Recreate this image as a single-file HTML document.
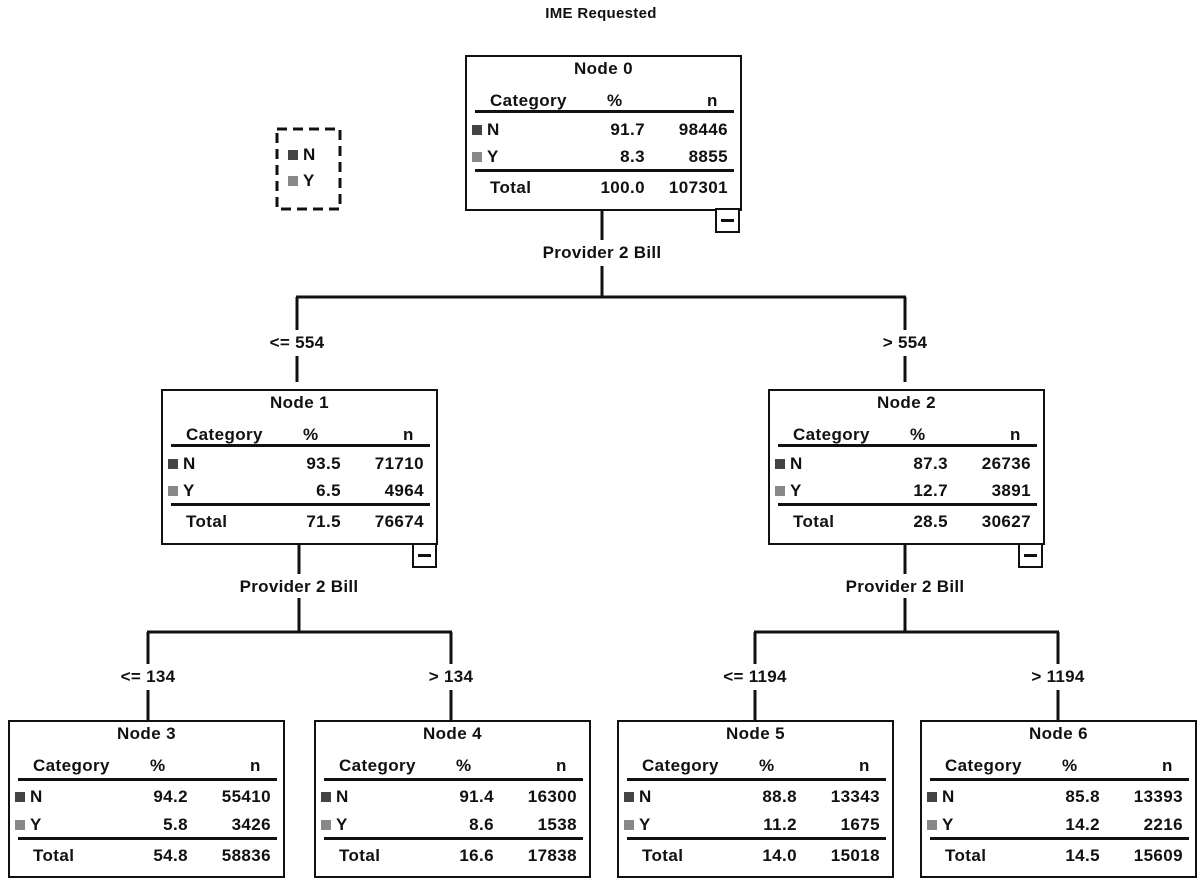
<!DOCTYPE html>
<html><head><meta charset="utf-8"><style>
body{margin:0;width:1203px;height:882px;background:#fff;position:relative;overflow:hidden;font-family:"Liberation Sans",Arial,sans-serif;font-weight:bold;color:#111;}
.t{position:absolute;font-size:17px;white-space:nowrap;line-height:18px;letter-spacing:0.3px;}
.c{transform:translateX(-50%);}
.node{position:absolute;width:273px;height:152px;border:2px solid #111;background:#fff;}
.node span{position:absolute;font-size:17px;line-height:18px;white-space:nowrap;letter-spacing:0.4px;}
.node span.sq{position:static;}
.ttl{left:0;right:0;text-align:center;top:3px;}
.hc{left:23px;top:35px;}
.hp{left:140px;top:35px;}
.hn{left:240px;top:35px;}
.r1{top:64px}.r2{top:91px}.r3{top:122px}
.sq{width:10px;height:10px;display:inline-block;margin-right:5px;}
.l{left:5px}.lt{left:23px}
.p{right:95px;text-align:right}
.n{right:12px;text-align:right}
.hr{position:absolute;left:8px;right:6px;height:3px;background:#111;}
.minus{position:absolute;width:21px;height:21px;border:2px solid #111;background:#fff;}
.minus:after{content:"";position:absolute;left:4px;right:4px;top:9px;height:3px;background:#111;}
</style></head><body>
<svg width="1203" height="882" style="position:absolute;left:0;top:0" stroke="#111" stroke-width="3" fill="none">
<path d="M602 208V240M602 266V297M296 297H906M297 297V330M297 356V382M905 297V330M905 356V382"/>
<path d="M299 543V574M299 598V632M147 632H452M148 632V664M148 690V720M451 632V664M451 690V720"/>
<path d="M905 543V574M905 598V632M754 632H1059M755 632V664M755 690V720M1058 632V664M1058 690V720"/>
<rect x="277" y="129" width="63" height="80" stroke-dasharray="10,6"/>
</svg>
<div class="t c" style="left:601px;top:5px;font-size:15px">IME Requested</div>
<div class="t" style="left:288px;top:146px"><span class="sq" style="background:#444"></span>N</div>
<div class="t" style="left:288px;top:172px"><span class="sq" style="background:#888"></span>Y</div>

<div class="t c" style="left:602px;top:244px">Provider 2 Bill</div>
<div class="t c" style="left:297px;top:334px">&lt;= 554</div>
<div class="t c" style="left:905px;top:334px">&gt; 554</div>
<div class="t c" style="left:299px;top:578px">Provider 2 Bill</div>
<div class="t c" style="left:905px;top:578px">Provider 2 Bill</div>
<div class="t c" style="left:148px;top:668px">&lt;= 134</div>
<div class="t c" style="left:451px;top:668px">&gt; 134</div>
<div class="t c" style="left:755px;top:668px">&lt;= 1194</div>
<div class="t c" style="left:1058px;top:668px">&gt; 1194</div>

<div class="node" style="left:465px;top:55px"><span class="ttl">Node 0</span><span class="hc">Category</span><span class="hp">%</span><span class="hn">n</span><div class="hr" style="top:53px"></div><span class="l r1"><span class="sq" style="background:#444"></span>N</span><span class="p r1">91.7</span><span class="n r1">98446</span><span class="l r2"><span class="sq" style="background:#888"></span>Y</span><span class="p r2">8.3</span><span class="n r2">8855</span><div class="hr" style="top:112px"></div><span class="lt r3">Total</span><span class="p r3">100.0</span><span class="n r3">107301</span></div>
<div class="minus" style="left:715px;top:208px"></div>

<div class="node" style="left:161px;top:389px"><span class="ttl">Node 1</span><span class="hc">Category</span><span class="hp">%</span><span class="hn">n</span><div class="hr" style="top:53px"></div><span class="l r1"><span class="sq" style="background:#444"></span>N</span><span class="p r1">93.5</span><span class="n r1">71710</span><span class="l r2"><span class="sq" style="background:#888"></span>Y</span><span class="p r2">6.5</span><span class="n r2">4964</span><div class="hr" style="top:112px"></div><span class="lt r3">Total</span><span class="p r3">71.5</span><span class="n r3">76674</span></div>
<div class="minus" style="left:412px;top:543px"></div>

<div class="node" style="left:768px;top:389px"><span class="ttl">Node 2</span><span class="hc">Category</span><span class="hp">%</span><span class="hn">n</span><div class="hr" style="top:53px"></div><span class="l r1"><span class="sq" style="background:#444"></span>N</span><span class="p r1">87.3</span><span class="n r1">26736</span><span class="l r2"><span class="sq" style="background:#888"></span>Y</span><span class="p r2">12.7</span><span class="n r2">3891</span><div class="hr" style="top:112px"></div><span class="lt r3">Total</span><span class="p r3">28.5</span><span class="n r3">30627</span></div>
<div class="minus" style="left:1018px;top:543px"></div>

<div class="node" style="left:8px;top:720px;height:154px"><span class="ttl">Node 3</span><span class="hc">Category</span><span class="hp">%</span><span class="hn">n</span><div class="hr" style="top:56px"></div><span class="l" style="top:66px"><span class="sq" style="background:#444"></span>N</span><span class="p" style="top:66px">94.2</span><span class="n" style="top:66px">55410</span><span class="l" style="top:94px"><span class="sq" style="background:#888"></span>Y</span><span class="p" style="top:94px">5.8</span><span class="n" style="top:94px">3426</span><div class="hr" style="top:115px"></div><span class="lt" style="top:125px">Total</span><span class="p" style="top:125px">54.8</span><span class="n" style="top:125px">58836</span></div>

<div class="node" style="left:314px;top:720px;height:154px"><span class="ttl">Node 4</span><span class="hc">Category</span><span class="hp">%</span><span class="hn">n</span><div class="hr" style="top:56px"></div><span class="l" style="top:66px"><span class="sq" style="background:#444"></span>N</span><span class="p" style="top:66px">91.4</span><span class="n" style="top:66px">16300</span><span class="l" style="top:94px"><span class="sq" style="background:#888"></span>Y</span><span class="p" style="top:94px">8.6</span><span class="n" style="top:94px">1538</span><div class="hr" style="top:115px"></div><span class="lt" style="top:125px">Total</span><span class="p" style="top:125px">16.6</span><span class="n" style="top:125px">17838</span></div>

<div class="node" style="left:617px;top:720px;height:154px"><span class="ttl">Node 5</span><span class="hc">Category</span><span class="hp">%</span><span class="hn">n</span><div class="hr" style="top:56px"></div><span class="l" style="top:66px"><span class="sq" style="background:#444"></span>N</span><span class="p" style="top:66px">88.8</span><span class="n" style="top:66px">13343</span><span class="l" style="top:94px"><span class="sq" style="background:#888"></span>Y</span><span class="p" style="top:94px">11.2</span><span class="n" style="top:94px">1675</span><div class="hr" style="top:115px"></div><span class="lt" style="top:125px">Total</span><span class="p" style="top:125px">14.0</span><span class="n" style="top:125px">15018</span></div>

<div class="node" style="left:920px;top:720px;height:154px"><span class="ttl">Node 6</span><span class="hc">Category</span><span class="hp">%</span><span class="hn">n</span><div class="hr" style="top:56px"></div><span class="l" style="top:66px"><span class="sq" style="background:#444"></span>N</span><span class="p" style="top:66px">85.8</span><span class="n" style="top:66px">13393</span><span class="l" style="top:94px"><span class="sq" style="background:#888"></span>Y</span><span class="p" style="top:94px">14.2</span><span class="n" style="top:94px">2216</span><div class="hr" style="top:115px"></div><span class="lt" style="top:125px">Total</span><span class="p" style="top:125px">14.5</span><span class="n" style="top:125px">15609</span></div>
</body></html>
